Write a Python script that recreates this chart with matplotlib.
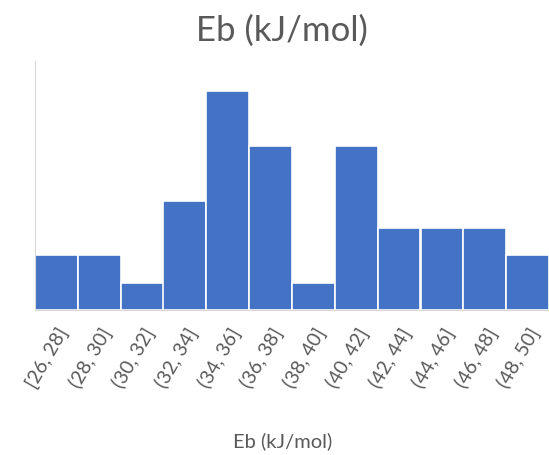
import matplotlib
matplotlib.use("Agg")
import matplotlib.pyplot as plt

# histogram bins and counts
bins = ['[26, 28]', '(28, 30]', '(30, 32]', '(32, 34]', '(34, 36]', '(36, 38]',
        '(38, 40]', '(40, 42]', '(42, 44]', '(44, 46]', '(46, 48]', '(48, 50]']
counts = [2, 2, 1, 4, 8, 6, 1, 6, 3, 3, 3, 2]

plt.rcParams['font.family'] = ['Lato', 'DejaVu Sans']
text_color = '#595959'

fig = plt.figure(figsize=(5.49, 4.56), dpi=100)
ax = fig.add_axes([35 / 549, (456 - 311) / 456, 1 - 35 / 549, (311 - 62) / 456])

x = list(range(len(bins)))
ax.bar(x, counts, width=1.0, color='#4472C4', edgecolor='white', linewidth=1.2)

ax.set_xlim(-0.5, len(bins) - 0.5)
ax.set_ylim(0, 9.1)
ax.set_yticks([])
ax.set_xticks(x)
ax.set_xticklabels(bins, rotation=60, ha='right', rotation_mode='anchor',
                   fontsize=14, color=text_color)
ax.tick_params(axis='x', length=0, pad=10)

for side in ['top', 'right']:
    ax.spines[side].set_visible(False)
ax.spines['left'].set_color('#D9D9D9')
ax.spines['bottom'].set_color('#D9D9D9')

fig.text(0.514, 1 - 31 / 456, 'Eb (kJ/mol)', ha='center', va='center', fontsize=25, color=text_color)
fig.text(0.514, 1 - 441 / 456, 'Eb (kJ/mol)', ha='center', va='center', fontsize=14.5, color=text_color)

fig.savefig('out.png', dpi=100)
